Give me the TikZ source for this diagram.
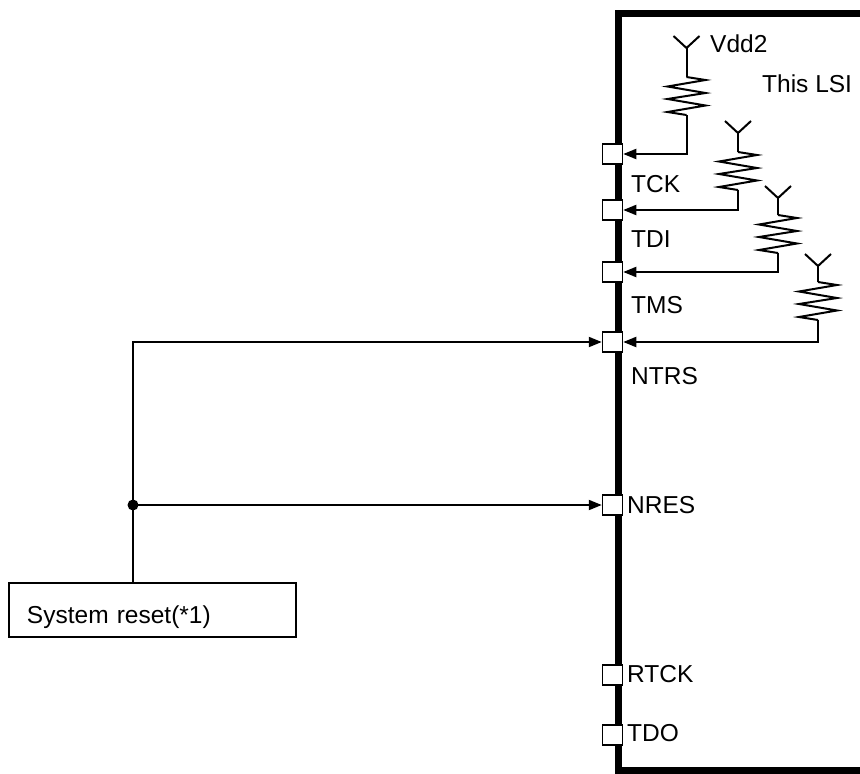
\documentclass[tikz,border=0pt]{standalone}
\usepackage{fontspec}
\setmainfont{Liberation Sans}
\usetikzlibrary{arrows.meta}
\begin{document}
\begin{tikzpicture}[x=1pt,y=-1pt,
  wire/.style={line width=2pt},
  pinbox/.style={draw, fill=white, line width=1.5pt, minimum size=20pt, inner sep=0pt},
  lbl/.style={inner sep=0pt, font=\fontsize{24.5}{28}\selectfont},
  sig/.style={wire, -{Triangle[length=13pt,width=10pt]}},
  zig/.pic={\draw[wire, line join=miter] (0,0) -- (19,3) -- (-19,9.5) -- (19,16) -- (-19,22) -- (19,28.5) -- (-19,35) -- (0,38);},
  ant/.pic={\draw[wire] (-13,-12) -- (0,0) -- (13,-12);}
]
\useasboundingbox (0,0) rectangle (860,774);
% LSI outline
\draw[line width=7pt] (880,13) -- (618.5,13) -- (618.5,770) -- (880,770);
% pins
\node[pinbox] (tck) at (612.5,154) {};
\node[pinbox] (tdi) at (612.5,210) {};
\node[pinbox] (tms) at (612.5,272) {};
\node[pinbox] (ntrs) at (612.5,342) {};
\node[pinbox] (nres) at (612.5,505) {};
\node[pinbox] (rtck) at (612.5,675) {};
\node[pinbox] (tdo) at (612.5,735) {};
% pin labels
\node[lbl, anchor=base west] (ltck) at (631,192) {TCK};
\node[lbl, anchor=base west] (ltdi) at (631,247) {TDI};
\node[lbl, anchor=base west] (ltms) at (631,313) {TMS};
\node[lbl, anchor=base west] (lntrs) at (631,384) {NTRS};
\node[lbl, anchor=base west] (lnres) at (627,513) {NRES};
\node[lbl, anchor=base west] (lrtck) at (627,682) {RTCK};
\node[lbl, anchor=base west] (ltdo) at (627,741) {TDO};
\node[lbl, anchor=base west] (vdd) at (710,52) {Vdd2};
\node[lbl, anchor=base west] (lsi) at (762,92) {This LSI};
% pull-up resistors
\coordinate (v1) at (686.5,48);  \coordinate (t1) at (686.5,77);  \coordinate (b1) at (686.5,115);
\coordinate (v2) at (738,133);   \coordinate (t2) at (738,152);   \coordinate (b2) at (738,190);
\coordinate (v3) at (778,198);   \coordinate (t3) at (778,215);   \coordinate (b3) at (778,253);
\coordinate (v4) at (818,266);   \coordinate (t4) at (818,282);   \coordinate (b4) at (818,320);
\foreach \i in {1,2,3,4}{
  \pic at (v\i) {ant};
  \draw[wire] (v\i) -- (t\i);
  \pic at (t\i) {zig};
}
\draw[sig] (b1) |- (tck.east);
\draw[sig] (b2) |- (tdi.east);
\draw[sig] (b3) |- (tms.east);
\draw[sig] (b4) |- (ntrs.east);
% system reset
\node[draw, wire, anchor=north west, minimum height=54pt, text width=251pt,
      inner xsep=18pt, text height=30pt, text depth=4pt, align=left,
      font=\fontsize{24.5}{28}\selectfont] (sys) at (8,582) {System reset(*1)};
\coordinate (junc) at (133,505);
\draw[wire] (sys.north -| junc) -- (junc);
\draw[sig] (junc) |- (ntrs.west);
\draw[sig] (junc) -- (nres.west);
\fill (junc) circle (5.5pt);
\end{tikzpicture}
\end{document}
